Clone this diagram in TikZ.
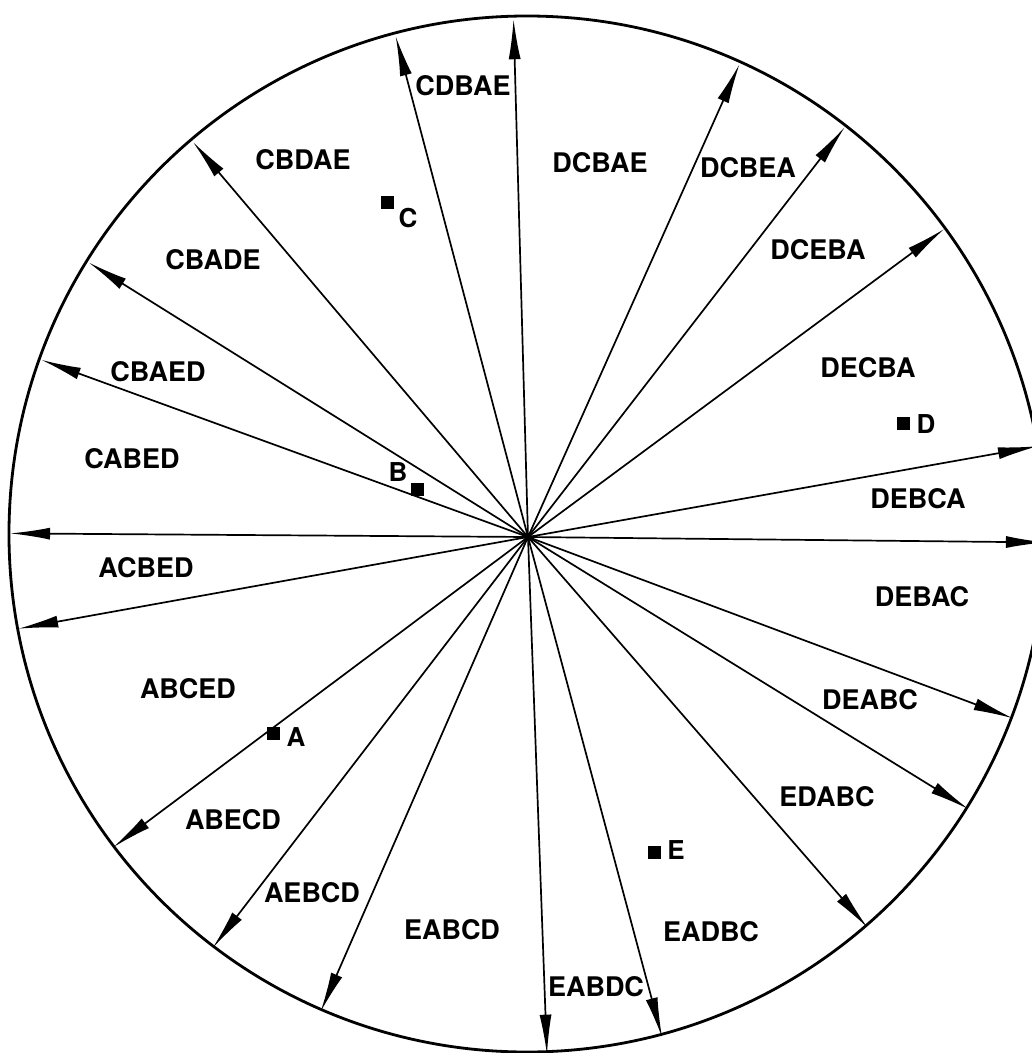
\documentclass[tikz,border=0pt]{standalone}
\usepackage{fontspec}
\setmainfont{TeX Gyre Heros}
\usepackage{tikz}
\usetikzlibrary{arrows.meta}

\tikzset{
  ray/.style={line width=1.7pt,-{Latex[length=40pt,width=12pt]}},
  sector/.style={font=\fontsize{27}{29}\selectfont\bfseries,inner sep=0pt},
  site/.style={fill=black,minimum size=13pt,inner sep=0pt},
  sitelabel/.style={font=\fontsize{26}{28}\selectfont\bfseries,inner sep=0pt}
}

\begin{document}
\begin{tikzpicture}[x=1pt,y=1pt]
\useasboundingbox (-528,-516) rectangle (504,537);
\clip (-528,-516) rectangle (504,537);
\coordinate (O) at (0,0);
\draw[line width=2.8pt] (-1,3) circle (518);
% rays from the centre to the rim
\foreach \a [count=\i] in {91.6,104.8,65.9,52.3,36.5,10.1,-0.6,-20.5,-31.7,-49.0,-75.0,-87.9,246.4,232.5,216.8,190.2,179.6,160.0,148.0,130.3}
  \draw[ray] (O) -- (\a:518) coordinate (t\i);
\fill (O) circle (4);
% sector labels
\foreach \x/\y/\t in {-65/451/CDBAE,72/374/DCBAE,220/369/DCBEA,290/287/DCEBA,340/169/DECBA,
  390/38/DEBCA,394/-60/DEBAC,342/-163/DEABC,299/-260/EDABC,183/-395/EADBC,68/-450/EABDC,
  -76/-393/EABCD,-216/-356/AEBCD,-295/-283/ABECD,-340/-152/ABCED,-382/-31/ACBED,
  -396/78/CABED,-370/165/CBAED,-315/277/CBADE,-225/377/CBDAE}
  \node[sector] (s\t) at (\x,\y) {\t};
% sites
\node[site] (pA) at (-254,-196) {};
\node[site] (pB) at (-110,48) {};
\node[site] (pC) at (-140,334) {};
\node[site] (pD) at (375,114) {};
\node[site] (pE) at (127,-315) {};
\node[sitelabel] (lA) at (-232,-200) {A};
\node[sitelabel] (lB) at (-130,65) {B};
\node[sitelabel] (lC) at (-120,319) {C};
\node[sitelabel] (lD) at (398,113) {D};
\node[sitelabel] (lE) at (148,-313) {E};
\end{tikzpicture}
\end{document}
